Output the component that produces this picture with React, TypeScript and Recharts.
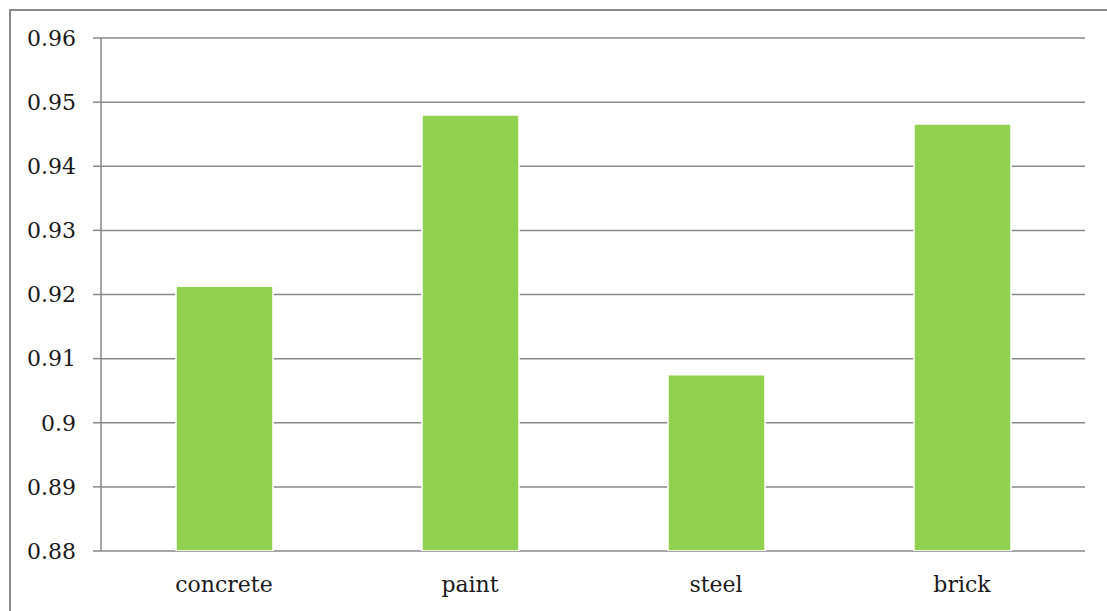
import React from "react";
import { BarChart, Bar, XAxis, YAxis, CartesianGrid } from "recharts";

const materials = ["concrete", "paint", "steel", "brick"];
const values = [0.9213, 0.948, 0.9075, 0.9466];
const boundaries = [0, 1, 2, 3, 4];
const yTicks = [0.88, 0.89, 0.9, 0.91, 0.92, 0.93, 0.94, 0.95, 0.96];

const data = materials.map((name, i) => ({ name, value: values[i], pos: i + 0.5 }));

const GRAY = "#898989";
const FONT = "'DejaVu Serif', serif";

const App = () => {
  return (
    <div style={{ position: "absolute", left: 0, top: 0, width: 1107, height: 611, background: "#fff", overflow: "hidden" }}>
      <div
        style={{
          position: "absolute",
          left: 9,
          top: 9,
          width: 1098,
          height: 602,
          borderTop: `2px solid ${GRAY}`,
          borderLeft: `2px solid ${GRAY}`,
          boxSizing: "border-box",
        }}
      />
      <div style={{ position: "absolute", left: 0, top: 0 }}>
        <BarChart
          width={1107}
          height={611}
          data={data}
          margin={{ top: 38, right: 22, left: 21, bottom: 0 }}
          style={{ fontFamily: FONT }}
        >
          <CartesianGrid vertical={false} stroke={GRAY} strokeWidth={1.5} strokeDasharray="" />
          <XAxis
            xAxisId="edges"
            type="number"
            dataKey="pos"
            domain={[0, 4]}
            ticks={boundaries}
            allowDataOverflow
            height={0}
            tickSize={8}
            tickFormatter={() => ""}
            axisLine={{ stroke: GRAY, strokeWidth: 1.5 }}
            tickLine={{ stroke: GRAY, strokeWidth: 1.5 }}
          />
          <XAxis
            dataKey="name"
            height={60}
            axisLine={false}
            tickLine={false}
            tickSize={0}
            tickMargin={25}
            tick={{ fill: "#1a1a1a", fontSize: 22, fontFamily: FONT }}
            interval={0}
          />
          <YAxis
            domain={[0.88, 0.96]}
            ticks={yTicks}
            width={80}
            tickSize={8}
            tickMargin={17}
            allowDataOverflow
            axisLine={{ stroke: GRAY, strokeWidth: 1.5 }}
            tickLine={{ stroke: GRAY, strokeWidth: 1.5 }}
            tick={{ fill: "#1a1a1a", fontSize: 22, fontFamily: FONT }}
          />
          <Bar
            dataKey="value"
            fill="#92D050"
            stroke="#ffffff"
            strokeWidth={1.5}
            barSize={97}
            isAnimationActive={false}
          />
        </BarChart>
      </div>
    </div>
  );
};

export default App;
